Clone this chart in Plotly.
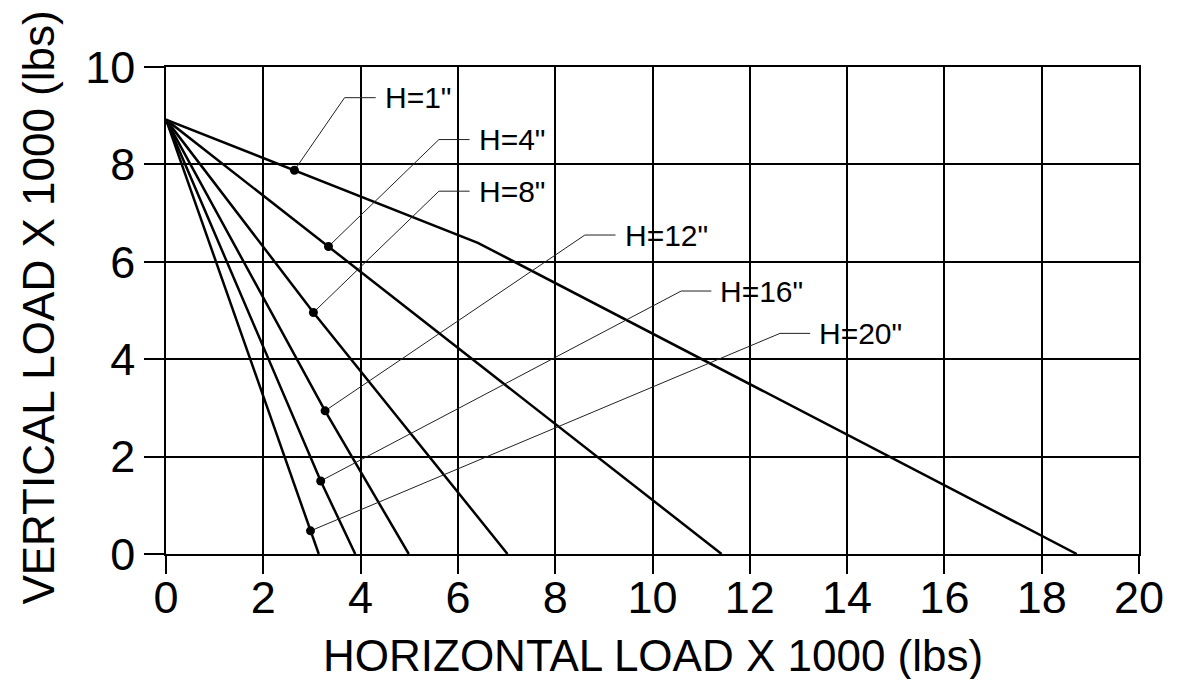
import plotly.graph_objects as go

# load curves, one per H value (x = horizontal, y = vertical, both x 1000 lbs)
LABELS = ['H=1"', 'H=4"', 'H=8"', 'H=12"', 'H=16"', 'H=20"']
CURVE_X = [
    [0, 2.64, 6.41, 18.72],
    [0, 3.34, 11.42],
    [0, 3.03, 7.02],
    [0, 3.27, 4.99],
    [0, 3.18, 3.89],
    [0, 2.97, 3.14],
]
CURVE_Y = [
    [8.92, 7.88, 6.39, 0],
    [8.92, 6.315, 0],
    [8.92, 4.96, 0],
    [8.92, 2.94, 0],
    [8.92, 1.50, 0],
    [8.92, 0.475, 0],
]

# labelled points on each curve
DOT_X = [2.64, 3.34, 3.03, 3.27, 3.18, 2.97]
DOT_Y = [7.88, 6.315, 4.96, 2.94, 1.50, 0.475]

# leader lines: elbow point and end of the short horizontal run
ELBOW_X = [3.67, 5.61, 5.61, 8.61, 10.59, 12.62]
ELBOW_Y = [9.37, 8.51, 7.45, 6.55, 5.40, 4.53]
LEADER_END_X = [4.31, 6.24, 6.24, 9.24, 11.21, 13.24]

FONT = "Arial, Liberation Sans, sans-serif"

fig = go.Figure()

for xs, ys in zip(CURVE_X, CURVE_Y):
    fig.add_trace(go.Scatter(x=xs, y=ys, mode="lines",
                             line=dict(color="#000000", width=2.5),
                             showlegend=False, hoverinfo="skip"))

for i, lab in enumerate(LABELS):
    fig.add_trace(go.Scatter(
        x=[DOT_X[i], ELBOW_X[i], LEADER_END_X[i]],
        y=[DOT_Y[i], ELBOW_Y[i], ELBOW_Y[i]],
        mode="lines", line=dict(color="#222222", width=1),
        showlegend=False, hoverinfo="skip"))
    fig.add_annotation(x=LEADER_END_X[i], y=ELBOW_Y[i], text=lab,
                       showarrow=False, xanchor="left", yanchor="middle",
                       xshift=7, font=dict(family=FONT, size=30, color="#000000"))

fig.add_trace(go.Scatter(x=DOT_X, y=DOT_Y, mode="markers",
                         marker=dict(color="#000000", size=9),
                         showlegend=False, hoverinfo="skip"))

fig.add_annotation(text="HORIZONTAL LOAD X 1000 (lbs)", xref="paper", yref="paper",
                   x=0.5, y=-0.209, xanchor="center", yanchor="middle", showarrow=False,
                   font=dict(family=FONT, size=44, color="#000000"))
fig.add_annotation(text="VERTICAL LOAD X 1000 (lbs)", xref="paper", yref="paper",
                   x=-0.131, y=0.505, xanchor="center", yanchor="middle", showarrow=False,
                   textangle=-90, font=dict(family=FONT, size=44, color="#000000"))

# page body has an 8px margin, so the figure is sized to fit inside the window
fig.update_layout(
    width=1161, height=671,
    paper_bgcolor="#ffffff", plot_bgcolor="#ffffff",
    margin=dict(l=158, r=30, t=59, b=125),
    font=dict(family=FONT, color="#000000"),
    xaxis=dict(range=[0, 20], dtick=2, tick0=0, showgrid=True, gridcolor="#000000",
               gridwidth=1.6, zeroline=False, showline=True, linecolor="#000000",
               linewidth=1.6, mirror=True, ticks="outside", ticklen=18,
               tickcolor="#000000", tickwidth=1.6, tickfont=dict(size=45),
               ticklabelstandoff=-15, automargin=False),
    yaxis=dict(range=[0, 10], dtick=2, tick0=0, showgrid=True, gridcolor="#000000",
               gridwidth=1.6, zeroline=False, showline=True, linecolor="#000000",
               linewidth=1.6, mirror=True, ticks="outside", ticklen=20,
               tickcolor="#000000", tickwidth=1.6, tickfont=dict(size=45),
               automargin=False),
)

fig.write_html("out.html")
